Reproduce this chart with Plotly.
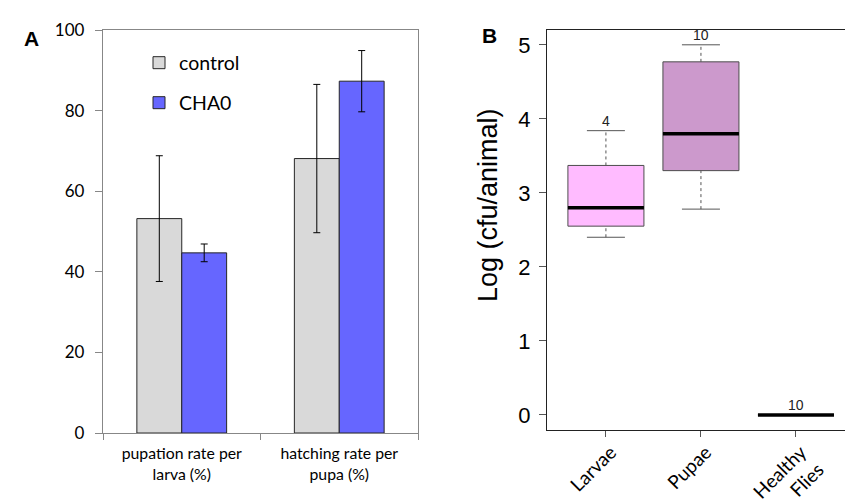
import plotly.graph_objects as go

# ---------- Panel A data ----------
a_categories = ["pupation rate per<br>larva (%)", "hatching rate per<br>pupa (%)"]
a_control = [53.2, 68.1]
a_control_err = [15.6, 18.4]
a_cha0 = [44.7, 87.3]
a_cha0_err = [2.2, 7.6]
a_yticks = [0, 20, 40, 60, 80, 100]

# ---------- Panel B data ----------
b_groups = ["Larvae", "Pupae", "Healthy<br>Flies"]
b_lower = [2.40, 2.78, 0.0]
b_q1 = [2.55, 3.30, 0.0]
b_median = [2.80, 3.80, 0.0]
b_q3 = [3.37, 4.77, 0.0]
b_upper = [3.84, 5.00, 0.0]
b_n = ["4", "10", "10"]
b_colors = ["#FFBBFF", "#CC99CC", "#FFFFFF"]
b_yticks = [0, 1, 2, 3, 4, 5]

W, H = 845, 502
fig = go.Figure()

# ----- Panel A bars -----
fig.add_trace(go.Bar(
    x=a_categories, y=a_control, name="control",
    marker=dict(color="#D9D9D9", line=dict(color="#262626", width=1)),
    error_y=dict(type="data", array=a_control_err, color="black", thickness=1, width=3.5),
    xaxis="x", yaxis="y", legend="legend"))
fig.add_trace(go.Bar(
    x=a_categories, y=a_cha0, name="CHA0",
    marker=dict(color="#6666FF", line=dict(color="#262626", width=1)),
    error_y=dict(type="data", array=a_cha0_err, color="black", thickness=1, width=3.5),
    xaxis="x", yaxis="y", legend="legend2"))

# ----- Panel B boxes -----
bw = 0.8
for i in range(len(b_groups)):
    fig.add_trace(go.Box(
        x=[i], q1=[b_q1[i]], median=[b_median[i]], q3=[b_q3[i]],
        lowerfence=[b_q1[i]], upperfence=[b_q3[i]],
        width=bw, whiskerwidth=0, fillcolor=b_colors[i],
        line=dict(color="#4D4D4D", width=1),
        boxpoints=False, hoverinfo="skip", showlegend=False,
        xaxis="x2", yaxis="y2"))
    # dashed whiskers
    fig.add_trace(go.Scatter(
        x=[i, i, None, i, i], y=[b_q3[i], b_upper[i], None, b_lower[i], b_q1[i]],
        mode="lines", line=dict(color="#555555", width=1, dash="3px,3px"),
        showlegend=False, hoverinfo="skip", xaxis="x2", yaxis="y2"))
    # caps
    fig.add_trace(go.Scatter(
        x=[i - bw / 4, i + bw / 4, None, i - bw / 4, i + bw / 4],
        y=[b_upper[i], b_upper[i], None, b_lower[i], b_lower[i]],
        mode="lines", line=dict(color="#555555", width=1),
        showlegend=False, hoverinfo="skip", xaxis="x2", yaxis="y2"))
    # thick median
    fig.add_trace(go.Scatter(
        x=[i - bw / 2, i + bw / 2], y=[b_median[i], b_median[i]],
        mode="lines", line=dict(color="black", width=3.5),
        showlegend=False, hoverinfo="skip", xaxis="x2", yaxis="y2"))
    fig.add_annotation(x=i, y=b_upper[i], xref="x2", yref="y2", text=b_n[i],
                       showarrow=False, yanchor="bottom", yshift=0,
                       font=dict(family="Liberation Sans", size=14, color="#222"))

# panel labels / titles
fig.add_annotation(x=22 / W, y=1 - 25 / H, xref="paper", yref="paper", text="<b>A</b>",
                   showarrow=False, font=dict(family="Liberation Sans", size=21, color="black"))
fig.add_annotation(x=489 / W, y=1 - 22 / H, xref="paper", yref="paper", text="<b>B</b>",
                   showarrow=False, font=dict(family="Liberation Sans", size=21, color="black"))
fig.add_annotation(x=488 / W, y=1 - 205 / H, xref="paper", yref="paper",
                   text="Log (cfu/animal)", textangle=-90, showarrow=False,
                   font=dict(family="Liberation Sans", size=27, color="black"))

fig.update_layout(
    width=W, height=H, margin=dict(l=0, r=0, t=0, b=0, autoexpand=False),
    paper_bgcolor="white", plot_bgcolor="white",
    barmode="group", bargap=0.43, bargroupgap=0,
    font=dict(family="Lato", color="black"),
    xaxis=dict(domain=[103 / W, 418 / W], anchor="y", showline=True, linecolor="#878787",
               linewidth=1.3, mirror=True, ticks="outside", tickson="boundaries",
               ticklen=6, tickcolor="#878787", tickfont=dict(family="Lato", size=15.8),
               ticklabelstandoff=6,
               showgrid=False, fixedrange=True, automargin=False),
    yaxis=dict(domain=[1 - 433 / H, 1 - 30 / H], anchor="x", range=[0, 100],
               tickvals=a_yticks, showline=True, linecolor="#878787", linewidth=1.3,
               mirror=True, ticks="outside", ticklen=7, tickcolor="#878787",
               tickfont=dict(family="Lato", size=17), ticklabelstandoff=7,
               showgrid=False, zeroline=False, automargin=False),
    xaxis2=dict(domain=[547 / W, 1.0], anchor="y2", range=[-0.62, 2.516],
                tickvals=list(range(len(b_groups))), ticktext=b_groups, tickangle=-45,
                showline=True, linecolor="#222", linewidth=1.2, mirror=True,
                ticks="outside", ticklen=6, tickcolor="#555",
                ticklabelstandoff=-3, ticklabelshift=5,
                tickfont=dict(family="Lato", size=19), showgrid=False, zeroline=False,
                automargin=False),
    yaxis2=dict(domain=[1 - 429.7 / H, 1 - 30 / H], anchor="x2", range=[-0.2, 5.2],
                tickvals=b_yticks, showline=True, linecolor="#222", linewidth=1.2,
                ticks="outside", ticklen=7, tickcolor="#555",
                tickfont=dict(family="Liberation Sans", size=22), ticklabelstandoff=4,
                showgrid=False, zeroline=False, automargin=False),
    legend=dict(x=139 / W, y=1 - 63 / H, xanchor="left", yanchor="middle",
                font=dict(family="Lato", size=19.5), bgcolor="rgba(0,0,0,0)"),
    legend2=dict(x=139 / W, y=1 - 103 / H, xanchor="left", yanchor="middle",
                 font=dict(family="Lato", size=19.5), bgcolor="rgba(0,0,0,0)"),
)

fig.write_html("out.html")
